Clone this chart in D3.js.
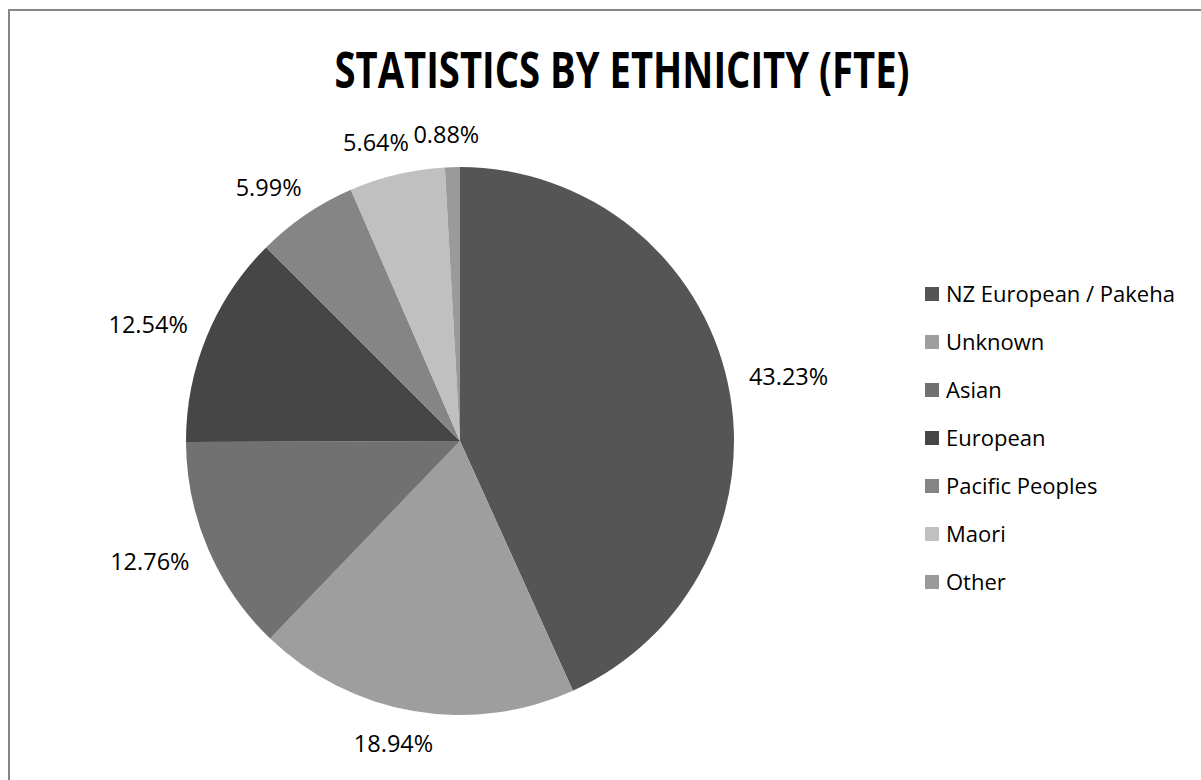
<!DOCTYPE html>
<html>
<head>
<meta charset="utf-8">
<script src="https://cdn.jsdelivr.net/npm/d3@7"></script>
<style>
  body { margin: 0; background: #fff; }
  text { font-family: "Open Sans", "Noto Sans", sans-serif; fill: #000; }
</style>
</head>
<body>
<div id="chart"></div>
<script>
// Data
const categories = ['NZ European / Pakeha', 'Unknown', 'Asian', 'European', 'Pacific Peoples', 'Maori', 'Other']
const shares = [43.23, 18.94, 12.76, 12.54, 5.99, 5.64, 0.88]
const colours = ['#555555', '#9e9e9e', '#717171', '#464646', '#858585', '#c0c0c0', '#9a9a9a']
const title = 'STATISTICS BY ETHNICITY (FTE)'

function draw() {
  const dataset = categories.map((c, i) => ({ name: c, value: shares[i], colour: colours[i] }))

  let dimensions = {
    width: 1201,
    height: 780,
    cx: 460,
    cy: 441,
    radius: 274
  }

  const svg = d3.select('#chart')
    .append('svg')
    .attr('width', dimensions.width)
    .attr('height', dimensions.height)

  // chart frame (runs off the right and bottom)
  svg.append('rect')
    .attr('x', 9).attr('y', 10)
    .attr('width', 1260).attr('height', 860)
    .attr('fill', '#fff')
    .attr('stroke', '#868686')
    .attr('stroke-width', 2)

  svg.append('text')
    .attr('x', 622)
    .attr('y', 88)
    .attr('text-anchor', 'middle')
    .attr('font-size', 50)
    .attr('font-weight', 'bold')
    .attr('textLength', 575)
    .attr('lengthAdjust', 'spacingAndGlyphs')
    .text(title)

  const ctr = svg.append('g')
    .attr('transform', `translate(${dimensions.cx}, ${dimensions.cy})`)

  const pie = d3.pie().value(d => d.value).sort(null)
  const arcs = pie(dataset)
  const arc = d3.arc().innerRadius(0).outerRadius(dimensions.radius)

  ctr.selectAll('path')
    .data(arcs)
    .join('path')
    .attr('d', arc)
    .attr('fill', d => d.data.colour)

  // data labels, outside end (roughly how excel pushes them out)
  const fontSize = 23.5
  const capH = fontSize * 0.72
  ctr.selectAll('text.lbl')
    .data(arcs)
    .join('text')
    .attr('class', 'lbl')
    .attr('font-size', fontSize)
    .attr('text-anchor', 'middle')
    .text(d => d.data.value.toFixed(2) + '%')
    .each(function(d) {
      const a = (d.startAngle + d.endAngle) / 2
      const s = Math.sin(a), c = Math.cos(a)
      const w = this.getComputedTextLength()
      const x = s * (dimensions.radius + 22) + Math.sign(s) * (w / 2) * Math.sqrt(Math.abs(s))
      const y = -c * (dimensions.radius + 33)
      d3.select(this)
        .attr('x', x)
        .attr('y', y + capH / 2)
    })

  // legend
  const legend = svg.append('g')
    .attr('transform', 'translate(925, 287)')
  const rowStep = 48
  const rows = legend.selectAll('g')
    .data(dataset)
    .join('g')
    .attr('transform', (d, i) => `translate(0, ${i * rowStep})`)
  rows.append('rect')
    .attr('width', 14).attr('height', 14)
    .attr('fill', d => d.colour)
  rows.append('text')
    .attr('x', 21)
    .attr('y', 15)
    .attr('font-size', 22)
    .text(d => d.name)
}

draw()
</script>
</body>
</html>
